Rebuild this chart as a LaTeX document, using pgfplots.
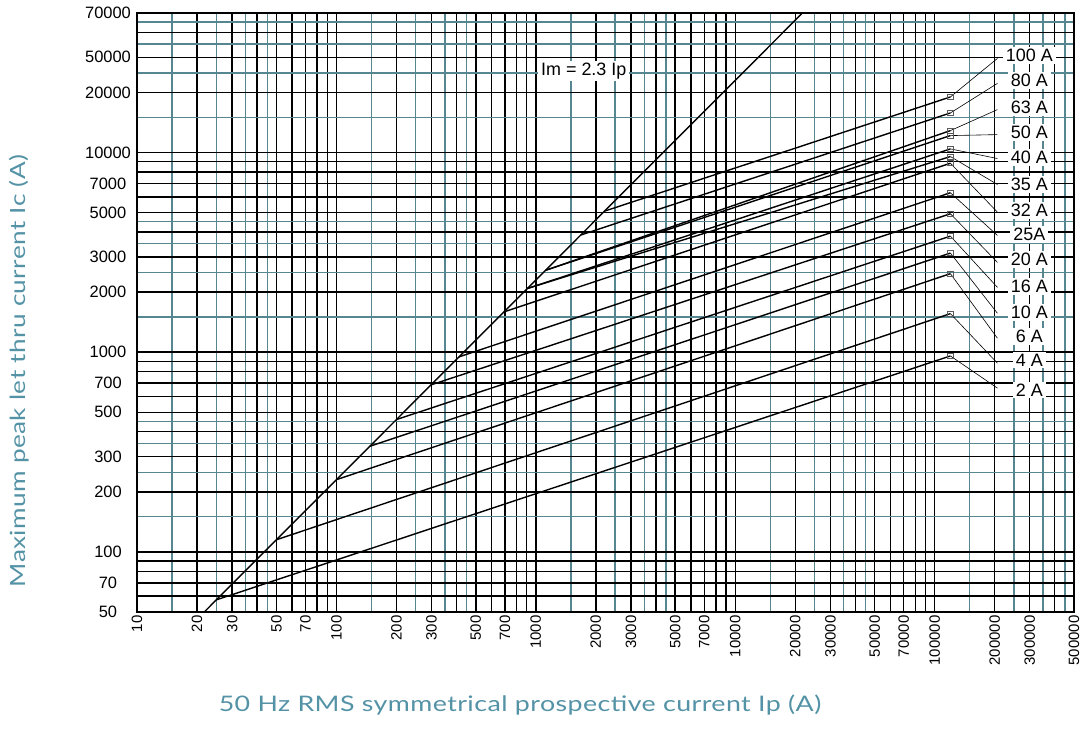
\documentclass[border=0pt]{standalone}
\usepackage{fontspec}
\setmainfont{Liberation Sans}
\newfontfamily\titlefont{Lato}[FakeStretch=1.25, LetterSpace=2]
\usepackage{pgfplots}
\pgfplotsset{compat=1.18}

\definecolor{gridteal}{RGB}{86,134,144}
\definecolor{titleteal}{RGB}{84,146,166}
\definecolor{markgray}{RGB}{90,90,90}

\begin{document}
\begin{tikzpicture}
\begin{axis}[
  name=ax,
  xmode=log, ymode=log,
  scale only axis,
  width=937bp, height=599bp,
  xmin=10, xmax=500000,
  ymin=50, ymax=50000,
  axis line style={black, line width=1.5bp},
  tick style={draw=none},
  grid=both,
  major grid style={black, line width=1.45bp},
  minor grid style={gridteal, line width=1.35bp},
  xtick={10,20,30,40,50,60,70,80,90,
         100,200,300,400,500,600,700,800,900,
         1000,2000,3000,4000,5000,6000,7000,8000,9000,
         10000,20000,30000,40000,50000,60000,70000,80000,90000,
         100000,200000,300000,400000,500000},
  xticklabels={10,20,30,{},50,{},70,{},{},
               100,200,300,{},500,{},700,{},{},
               1000,2000,3000,{},5000,{},7000,{},{},
               10000,20000,30000,{},50000,{},70000,{},{},
               100000,200000,300000,{},500000},
  minor xtick={15,25,35,45,150,250,350,450,1500,2500,3500,4500,
               15000,25000,35000,45000,150000,250000,350000,450000},
  ytick={50,60,70,80,90,
         100,200,300,400,500,600,700,800,900,
         1000,2000,3000,4000,5000,6000,7000,8000,9000,
         10000,20000,30000,40000,50000},
  yticklabels={50,{},70,{},{},
               100,200,300,{},500,{},700,{},{},
               1000,2000,3000,{},5000,{},7000,{},{},
               10000,20000,50000,{},70000},
  minor ytick={150,250,350,450,1500,2500,3500,4500,15000,25000,35000,45000},
  xticklabel style={rotate=90, anchor=east, inner ysep=0pt, font=\fontsize{15}{15}\selectfont},
  yticklabel style={anchor=center, xshift=-29bp, font=\fontsize{16.5}{16.5}\selectfont},
  fuse/.style={black, line width=1.4bp, no marks},
]
% Im = 2.3 Ip
\addplot[fuse] coordinates {(21.74,50) (21739,50000)};
% fuse ratings: from the break point on the Im line to 120 kA
\addplot[fuse] coordinates {(25,57.5) (120000,958)};     % 2 A
\addplot[fuse] coordinates {(50,115) (120000,1561)};     % 4 A
\addplot[fuse] coordinates {(100,230) (120000,2475)};    % 6 A
\addplot[fuse] coordinates {(147,338) (120000,3137)};    % 10 A
\addplot[fuse] coordinates {(200,460) (120000,3815)};    % 16 A
\addplot[fuse] coordinates {(298,686) (120000,4937)};    % 20 A
\addplot[fuse] coordinates {(412,948) (120000,6290)};    % 25 A
\addplot[fuse] coordinates {(692,1592) (120000,8840)};   % 32 A
\addplot[fuse] coordinates {(906,2084) (120000,9550)};   % 35 A
\addplot[fuse] coordinates {(906,2084) (120000,10430)};  % 40 A
\addplot[fuse] coordinates {(1118,2571) (120000,12160)}; % 50 A
\addplot[fuse] coordinates {(1118,2571) (120000,12880)}; % 63 A
\addplot[fuse] coordinates {(1679,3862) (120000,15790)}; % 80 A
\addplot[fuse] coordinates {(2213,5090) (120000,18990)}; % 100 A
\addplot[only marks, mark=square, mark size=2.6bp,
  mark options={draw=markgray, line width=0.7bp, fill=none}] coordinates {
  (120000,958) (120000,1561) (120000,2475) (120000,3137) (120000,3815)
  (120000,4937) (120000,6290) (120000,8840) (120000,9550) (120000,10430)
  (120000,12160) (120000,12880) (120000,15790) (120000,18990)};

% leaders to the rating labels
\draw[black, line width=0.6bp] (axis cs:120000,18990) -- (axis cs:206500,29610);
\draw[black, line width=0.6bp] (axis cs:120000,15790) -- (axis cs:206500,22210);
\draw[black, line width=0.6bp] (axis cs:120000,12880) -- (axis cs:206500,16410);
\draw[black, line width=0.6bp] (axis cs:120000,12160) -- (axis cs:206500,12300);
\draw[black, line width=0.6bp] (axis cs:120000,10430) -- (axis cs:206500,9333);
\draw[black, line width=0.6bp] (axis cs:120000,9550) -- (axis cs:206500,6918);
\draw[black, line width=0.6bp] (axis cs:120000,8840) -- (axis cs:206500,5029);
\draw[black, line width=0.6bp] (axis cs:120000,6290) -- (axis cs:206500,3846);
\draw[black, line width=0.6bp] (axis cs:120000,4937) -- (axis cs:206500,2818);
\draw[black, line width=0.6bp] (axis cs:120000,3815) -- (axis cs:206500,2113);
\draw[black, line width=0.6bp] (axis cs:120000,3137) -- (axis cs:206500,1567);
\draw[black, line width=0.6bp] (axis cs:120000,2475) -- (axis cs:206500,1175);
\draw[black, line width=0.6bp] (axis cs:120000,1561) -- (axis cs:206500,881);
\draw[black, line width=0.6bp] (axis cs:120000,958) -- (axis cs:206500,661);

\begin{scope}[every node/.style={fill=white, inner xsep=3bp, inner ysep=2bp,
    font=\fontsize{18}{18}\selectfont}]
\node at (axis cs:298500,30550) {100 A};
\node at (axis cs:298500,22910) {80 A};
\node at (axis cs:298500,16790) {63 A};
\node at (axis cs:298500,12590) {50 A};
\node at (axis cs:298500,9441) {40 A};
\node at (axis cs:298500,6918) {35 A};
\node at (axis cs:298500,5129) {32 A};
\node at (axis cs:298500,3890) {25A};
\node at (axis cs:298500,2917) {20 A};
\node at (axis cs:298500,2138) {16 A};
\node at (axis cs:298500,1585) {10 A};
\node at (axis cs:298500,1202) {6 A};
\node at (axis cs:298500,912) {4 A};
\node at (axis cs:298500,646) {2 A};
\node at (axis cs:1740,25700) {Im = 2.3 Ip};
\end{scope}
\end{axis}

\node[rotate=90, text=titleteal, font=\titlefont\fontsize{21}{21}\selectfont]
  at ([shift={(-118bp,241bp)}]ax.south west) {Maximum peak let thru current Ic (A)};
\node[text=titleteal, font=\titlefont\fontsize{21.5}{21.5}\selectfont]
  at ([shift={(383bp,-93bp)}]ax.south west) {50 Hz RMS symmetrical prospective current Ip (A)};

\pgfresetboundingbox
\path ([shift={(-137bp,-133bp)}]ax.south west) rectangle ([shift={(8bp,13bp)}]ax.north east);
\end{tikzpicture}
\end{document}
